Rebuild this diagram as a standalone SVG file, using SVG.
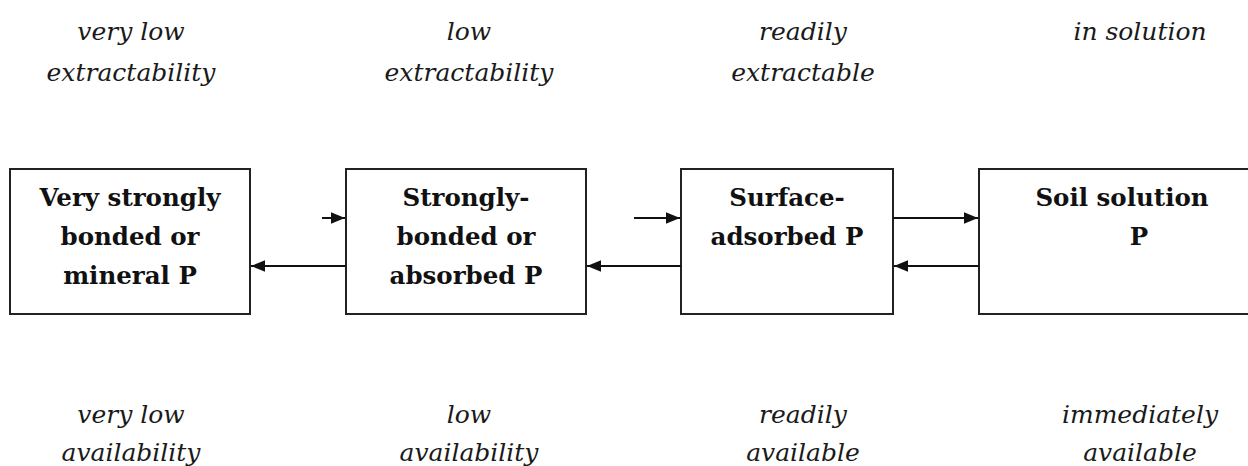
<svg xmlns="http://www.w3.org/2000/svg" width="1248" height="466" viewBox="0 0 1248 466">
<style>
.box{fill:#fff;stroke:#222;stroke-width:2}
.bt{font-family:"DejaVu Serif","Liberation Serif",serif;font-weight:bold;font-size:24.5px;fill:#111;text-anchor:middle}
.lb{font-family:"DejaVu Serif","Liberation Serif",serif;font-style:italic;font-size:25px;fill:#1a1a1a;text-anchor:middle}
.ar{stroke:#111;stroke-width:2;fill:none;marker-end:url(#ah)}
</style>
<defs>
<marker id="ah" viewBox="0 0 12 10" refX="12" refY="5" markerWidth="7" markerHeight="6" markerUnits="strokeWidth" orient="auto">
<path d="M0,0 L12,5 L0,10 Z" fill="#111"/>
</marker>
</defs>
<rect width="1248" height="466" fill="#fff"/>
<g id="labels-top">
<text class="lb" x="131" y="40">very low</text>
<text class="lb" x="131" y="81">extractability</text>
<text class="lb" x="469" y="40">low</text>
<text class="lb" x="469" y="81">extractability</text>
<text class="lb" x="803" y="40">readily</text>
<text class="lb" x="803" y="81">extractable</text>
<text class="lb" x="1140" y="40">in solution</text>
</g>
<g id="node-very-strongly">
<rect class="box" x="10" y="169" width="240" height="145"/>
<text class="bt" x="130" y="206">Very strongly</text>
<text class="bt" x="130" y="245">bonded or</text>
<text class="bt" x="130" y="284">mineral P</text>
</g>
<g id="node-strongly">
<rect class="box" x="346" y="169" width="240" height="145"/>
<text class="bt" x="466" y="206">Strongly-</text>
<text class="bt" x="466" y="245">bonded or</text>
<text class="bt" x="466" y="284">absorbed P</text>
</g>
<g id="node-surface">
<rect class="box" x="681" y="169" width="212" height="145"/>
<text class="bt" x="787" y="206">Surface-</text>
<text class="bt" x="787" y="245">adsorbed P</text>
</g>
<g id="node-soil-solution">
<rect class="box" x="979" y="169" width="290" height="145"/>
<text class="bt" x="1122" y="206">Soil solution</text>
<text class="bt" x="1139" y="245">P</text>
</g>
<g id="connectors">
<line class="ar" x1="322" y1="218" x2="345" y2="218"/>
<line class="ar" x1="346" y1="266" x2="251" y2="266"/>
<line class="ar" x1="634" y1="218" x2="680" y2="218"/>
<line class="ar" x1="681" y1="266" x2="587" y2="266"/>
<line class="ar" x1="893" y1="218" x2="978" y2="218"/>
<line class="ar" x1="979" y1="266" x2="894" y2="266"/>
</g>
<g id="labels-bottom">
<text class="lb" x="131" y="423">very low</text>
<text class="lb" x="131" y="461">availability</text>
<text class="lb" x="469" y="423">low</text>
<text class="lb" x="469" y="461">availability</text>
<text class="lb" x="803" y="423">readily</text>
<text class="lb" x="803" y="461">available</text>
<text class="lb" x="1140" y="423">immediately</text>
<text class="lb" x="1140" y="461">available</text>
</g>
</svg>
